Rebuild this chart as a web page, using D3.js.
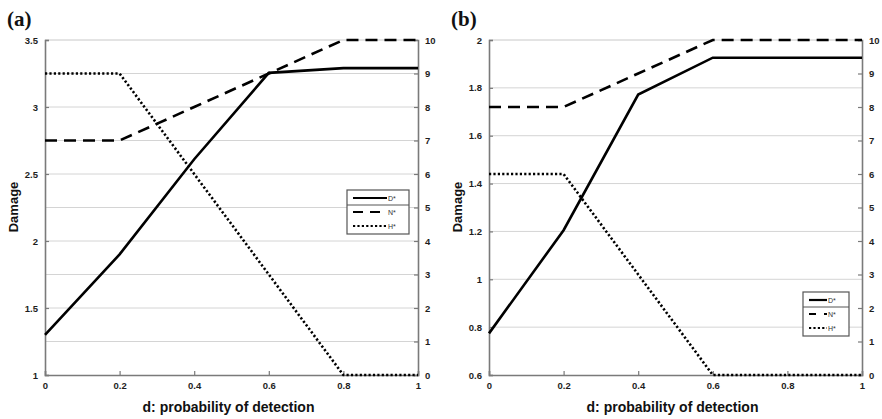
<!DOCTYPE html>
<html>
<head>
<meta charset="utf-8">
<script src="https://cdn.jsdelivr.net/npm/d3@7"></script>
<style>
    body { margin: 0; background: #fff; }
    svg { display: block; }
</style>
</head>
<body>
<svg id="chart" width="882" height="419"></svg>
<script>
// shared x values
const detection = [0, 0.2, 0.4, 0.6, 0.8, 1];
const xTicks = [0, 0.2, 0.4, 0.6, 0.8, 1];
const seriesNames = ["D*", "N*", "H*"];

// panel (a)
const damageA = [1.3, 1.9, 2.61, 3.255, 3.29, 3.29];
const nodesA = [7, 7, 8, 9, 10, 10];
const hiddenA = [9, 9, 6, 3, 0, 0];
const leftTicksA = [1, 1.5, 2, 2.5, 3, 3.5];
const gridA = [1.25, 1.5, 1.75, 2, 2.25, 2.5, 2.75, 3, 3.25];

// panel (b)
const damageB = [0.774, 1.205, 1.772, 1.926, 1.926, 1.926];
const nodesB = [8, 8, 9, 10, 10, 10];
const hiddenB = [6, 6, 3, 0, 0, 0];
const leftTicksB = [0.6, 0.8, 1, 1.2, 1.4, 1.6, 1.8, 2];
const gridB = [0.8, 1, 1.2, 1.4, 1.6, 1.8];

const rightTicks = d3.range(0, 11);

const svg = d3.select("#chart");

const styles = {
    "D*": { dash: null },
    "N*": { dash: "12,7" },
    "H*": { dash: "2.2,2.2" }
};

function fmt(v) {
    return String(+v.toFixed(2));
}

function drawPanel(p) {
    let x = d3.scaleLinear().domain([0, 1]).range([p.x0, p.x1]);
    let yL = d3.scaleLinear().domain(p.leftDomain).range([375, 40]);
    let yR = d3.scaleLinear().domain([0, 10]).range([375, 40]);

    let g = svg.append("g");

    // grid lines
    g.selectAll(".grid")
        .data(p.grid)
        .enter()
        .append("line")
        .attr("x1", p.x0).attr("x2", p.x1)
        .attr("y1", d => yL(d)).attr("y2", d => yL(d))
        .attr("stroke", "#d4d4d4")
        .attr("stroke-width", 1);

    // top frame line (light)
    g.append("line")
        .attr("x1", p.x0).attr("x2", p.x1)
        .attr("y1", yL(p.leftDomain[1])).attr("y2", yL(p.leftDomain[1]))
        .attr("stroke", "#c8c8c8")
        .attr("stroke-width", 1);

    // axes
    let left = d3.axisLeft(yL).tickValues(p.leftTicks).tickSize(-4).tickPadding(7).tickFormat(fmt);
    let right = d3.axisRight(yR).tickValues(rightTicks).tickSize(-4).tickPadding(7);
    let bottom = d3.axisBottom(x).tickValues(xTicks).tickSize(-4).tickPadding(7).tickFormat(fmt);

    [[left, `translate(${p.x0},0)`], [right, `translate(${p.x1},0)`], [bottom, "translate(0,375)"]]
        .forEach(([ax, tr]) => {
            let a = g.append("g").attr("transform", tr).call(ax);
            a.select(".domain").attr("stroke", "#7a7a7a").attr("stroke-width", 1.6);
            a.selectAll(".tick line").attr("stroke", "#7a7a7a").attr("stroke-width", 1.2);
            a.selectAll(".tick text")
                .attr("fill", "#1e1e1e")
                .style("font-family", "Liberation Sans, Arial, sans-serif")
                .style("font-size", "9.5px")
                .style("font-weight", "bold");
        });

    // series lines
    let seriesData = [
        { name: "D*", values: p.damage, y: yL },
        { name: "N*", values: p.nodes, y: yR },
        { name: "H*", values: p.hidden, y: yR }
    ];

    seriesData.forEach(s => {
        let line = d3.line()
            .x((d, i) => x(detection[i]))
            .y(d => s.y(d));
        g.append("path")
            .datum(s.values)
            .attr("d", line)
            .attr("fill", "none")
            .attr("stroke", "#000")
            .attr("stroke-width", 2.6)
            .attr("stroke-dasharray", styles[s.name].dash);
    });

    // legend
    let lg = g.append("g").attr("transform", `translate(${p.legX},${p.legY})`);
    lg.append("rect")
        .attr("width", p.legW).attr("height", 44)
        .attr("fill", "#fff")
        .attr("stroke", "#555")
        .attr("stroke-width", 1.2);
    lg.append("line")
        .attr("x1", 0).attr("x2", p.legW)
        .attr("y1", 15).attr("y2", 15)
        .attr("stroke", "#555")
        .attr("stroke-width", 1);
    seriesNames.forEach((n, i) => {
        let yy = 8 + i * 14;
        lg.append("line")
            .attr("x1", 6).attr("x2", p.legW - 22)
            .attr("y1", yy).attr("y2", yy)
            .attr("stroke", "#000")
            .attr("stroke-width", 2.2)
            .attr("stroke-dasharray", n === "N*" ? p.legDash : styles[n].dash);
        lg.append("text")
            .attr("x", p.legW - 21)
            .attr("y", yy + 2.5)
            .attr("fill", "#333")
            .style("font-family", "Liberation Sans, Arial, sans-serif")
            .style("font-size", "7px")
            .text(n);
    });

    // axis labels
    g.append("text")
        .attr("transform", `translate(${p.x0 - 27},207) rotate(-90)`)
        .attr("text-anchor", "middle")
        .attr("fill", "#111")
        .style("font-family", "Liberation Sans, Arial, sans-serif")
        .style("font-size", "13px")
        .style("font-weight", "bold")
        .text("Damage");

    g.append("text")
        .attr("x", (p.x0 + p.x1) / 2 - 3)
        .attr("y", 412)
        .attr("text-anchor", "middle")
        .attr("fill", "#111")
        .style("font-family", "Liberation Sans, Arial, sans-serif")
        .style("font-size", "14px")
        .style("font-weight", "bold")
        .text("d: probability of detection");

    g.append("text")
        .attr("x", p.x0 - 38)
        .attr("y", 26)
        .attr("fill", "#111")
        .style("font-family", "Liberation Serif, Times New Roman, serif")
        .style("font-size", "21px")
        .style("font-weight", "bold")
        .text(p.label);
}

drawPanel({
    label: "(a)", x0: 45, x1: 418, leftDomain: [1, 3.5],
    leftTicks: leftTicksA, grid: gridA,
    damage: damageA, nodes: nodesA, hidden: hiddenA,
    legX: 347, legY: 190, legW: 62, legDash: "10,7"
});

drawPanel({
    label: "(b)", x0: 489, x1: 862, leftDomain: [0.6, 2],
    leftTicks: leftTicksB, grid: gridB,
    damage: damageB, nodes: nodesB, hidden: hiddenB,
    legX: 803, legY: 292, legW: 46, legDash: "7,8"
});
</script>
</body>
</html>
